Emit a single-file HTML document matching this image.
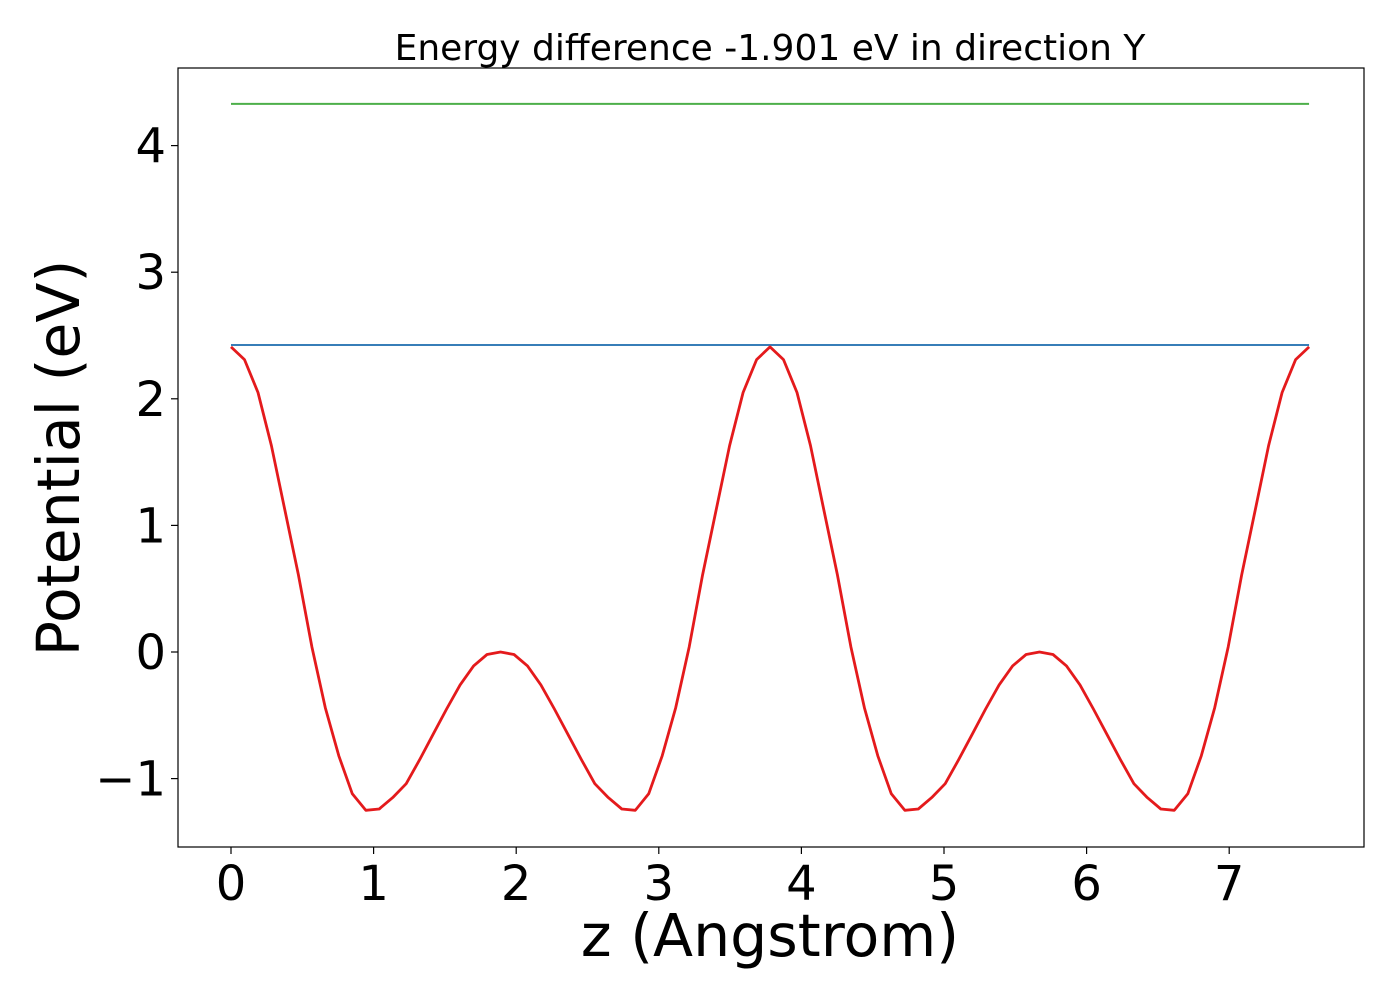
<!DOCTYPE html>
<html><head><meta charset="utf-8"><style>
body{margin:0;background:#fff;}
svg text{font-family:"DejaVu Sans","Liberation Sans",sans-serif;fill:#000;}
</style></head><body>
<svg id="chart" width="1400" height="1000"></svg>
<script>
const potentialValues = [2.41,2.31,2.05,1.63,1.12,0.61,0.04,-0.44,-0.82,-1.12,-1.25,-1.24,-1.15,-1.04,-0.85,-0.65,-0.45,-0.26,-0.11,-0.02,0.0,
-0.02,-0.11,-0.26,-0.45,-0.65,-0.85,-1.04,-1.15,-1.24,-1.25,-1.12,-0.82,-0.44,0.04,0.61,1.12,1.63,2.05,2.31,2.41,
2.31,2.05,1.63,1.12,0.61,0.04,-0.44,-0.82,-1.12,-1.25,-1.24,-1.15,-1.04,-0.85,-0.65,-0.45,-0.26,-0.11,-0.02,0.0,
-0.02,-0.11,-0.26,-0.45,-0.65,-0.85,-1.04,-1.15,-1.24,-1.25,-1.12,-0.82,-0.44,0.04,0.61,1.12,1.63,2.05,2.31,2.41];
const zStep = 0.0945;
const blueLevel = 2.425;
const greenLevel = 4.33;
const zMax = 7.56;
const xTicks = [0,1,2,3,4,5,6,7];
const yTicks = [4,3,2,1,0,-1];
const yTickLabels = ["4","3","2","1","0","\u22121"];

const NS="http://www.w3.org/2000/svg";
const svg=document.getElementById('chart');
const L=178,R=1364,T=68,B=847;
const xs=z=>231+z*142.6;
const ys=v=>652-v*126.6;
function mk(tag,attrs){const e=document.createElementNS(NS,tag);for(const k in attrs)e.setAttribute(k,attrs[k]);svg.appendChild(e);return e;}

const frame=mk('rect',{x:L,y:T,width:R-L,height:B-T,fill:'none',stroke:'#000','stroke-width':1.2});



xTicks.forEach(t=>{
  const l=mk('line',{x1:xs(t),x2:xs(t),y1:B,y2:B+7,stroke:'#000','stroke-width':1.2});
  
  
  const tx=mk('text',{x:xs(t),y:B+53,'font-size':48,'text-anchor':'middle'});
  tx.textContent=t;
  
  
});
yTicks.forEach((t,i)=>{
  const l=mk('line',{x1:L-7,x2:L,y1:ys(t),y2:ys(t),stroke:'#000','stroke-width':1.2});
  
  
  const tx=mk('text',{x:L-12,y:ys(t)+17,'font-size':48,'text-anchor':'end'});
  tx.textContent=yTickLabels[i];
  
  
});

const g=mk('line',{x1:xs(0),x2:xs(zMax),y1:ys(greenLevel),y2:ys(greenLevel),stroke:'#4daf4a','stroke-width':2});


const b=mk('line',{x1:xs(0),x2:xs(zMax),y1:ys(blueLevel),y2:ys(blueLevel),stroke:'#377eb8','stroke-width':2});


const pts=potentialValues.map((v,i)=>xs(i*zStep).toFixed(1)+','+ys(v).toFixed(1)).join(' ');
const p=mk('polyline',{points:pts,fill:'none',stroke:'#e41a1c','stroke-width':2.8,'stroke-linejoin':'round'});



const title=mk('text',{x:770,y:60,'font-size':36,'text-anchor':'middle'});
title.textContent='Energy difference -1.901 eV in direction Y';


const xl=mk('text',{x:770,y:956,'font-size':58.5,'text-anchor':'middle'});
xl.textContent='z (Angstrom)';


const yl=mk('text',{x:0,y:0,'font-size':58.5,'text-anchor':'middle',transform:'translate(79,458) rotate(-90)'});
yl.textContent='Potential (eV)';


</script>
</body></html>
